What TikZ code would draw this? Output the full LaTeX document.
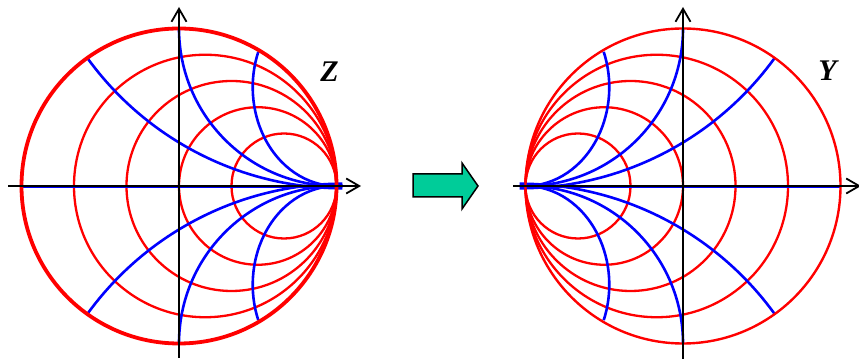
\documentclass[tikz,border=0pt]{standalone}
\usepackage{fontspec}
\setmainfont{Liberation Serif}
\usetikzlibrary{arrows.meta}
\definecolor{arrowgreen}{RGB}{0,204,153}

\begin{document}
\begin{tikzpicture}[
    x=1pt, y=1pt,
    rline/.style={draw=red, line width=2.3pt},
    bline/.style={draw=blue, line width=2.6pt},
    axis/.style={draw=black, line width=1.8pt, -{Straight Barb[length=13pt,width=15pt,line width=1.8pt]}},
    label/.style={font=\fontsize{30}{30}\selectfont\bfseries\itshape, inner sep=0pt, anchor=base},
    bigarrow/.style={draw=black, line width=1.5pt, fill=arrowgreen, line join=miter}
]
    \useasboundingbox (0,0) rectangle (859,363);
    \coordinate (zc) at (179,177);
    \coordinate (yc) at (683,177);
    % Z chart and its mirror, the Y chart
    \foreach \cc/\m/\ow in {zc/1/3.8pt, yc/-1/2.4pt} {
        \begin{scope}[shift={(\cc)}, xscale=\m, scale=157.5]
            \foreach \r in {0.2,0.5,1,2}
                \draw[rline] ({\r/(\r+1)},0) circle[radius={1/(\r+1)}];
            \draw[bline] (-1,-0.006) -- (1,-0.006);
            \foreach \v in {1,-1} {
                \begin{scope}[yscale=\v]
                    \draw[bline] (0,1) arc[start angle=180, end angle=270, radius=1];
                    \draw[bline] (-0.58,0.81) arc[start angle=216, end angle=270, radius=2];
                    \draw[bline] (1,0) arc[start angle=270, end angle=159, x radius=0.532, y radius=0.627];
                \end{scope}
            }
            \draw[rline, line width=\ow] (0,0) circle[radius=1];
        \end{scope}
    }
    % axes
    \draw[axis] (8,177) -- (361,177);
    \draw[axis] (179,5) -- (179,356);
    \draw[axis] (513,177) -- (861,177);
    \draw[axis] (683,4) -- (683,356);
    \node[label] (zlab) at (329.5,281.5) {Z};
    \node[label] (ylab) at (827.5,282) {Y};
    % transform arrow
    \draw[bigarrow] (413,166) -- (462,166) -- (462,154) -- (478,177)
        -- (462,200) -- (462,189) -- (413,189) -- cycle;
\end{tikzpicture}
\end{document}
